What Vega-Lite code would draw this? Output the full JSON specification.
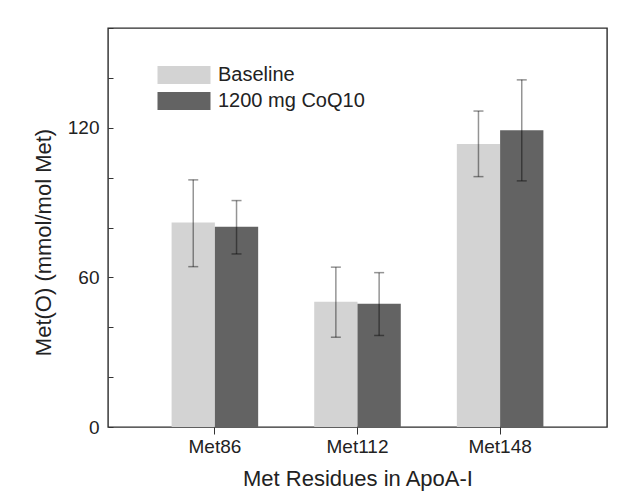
{
  "$schema": "https://vega.github.io/schema/vega-lite/v6.json",
  "autosize": {"type": "none"},
  "padding": {"left": 108, "top": 28, "right": 22, "bottom": 66},
  "width": 499,
  "height": 399,
  "background": "white",
  "config": {
    "font": "Liberation Sans",
    "view": {"stroke": "#2b2b2b", "strokeWidth": 1.4},
    "axis": {"labelColor": "#222", "titleColor": "#222", "titleFontWeight": "normal", "grid": false, "domain": false, "tickColor": "#333"}
  },
  "data": {
    "values": [
      {"residue": "Met86", "group": "Baseline", "mean": 82.0, "lo": 64.3, "hi": 99.1},
      {"residue": "Met86", "group": "1200 mg CoQ10", "mean": 80.3, "lo": 69.4, "hi": 90.8},
      {"residue": "Met112", "group": "Baseline", "mean": 50.2, "lo": 36.0, "hi": 64.1},
      {"residue": "Met112", "group": "1200 mg CoQ10", "mean": 49.4, "lo": 36.7, "hi": 61.9},
      {"residue": "Met148", "group": "Baseline", "mean": 113.5, "lo": 100.4, "hi": 126.7},
      {"residue": "Met148", "group": "1200 mg CoQ10", "mean": 119.0, "lo": 98.7, "hi": 139.2}
    ]
  },
  "encoding": {
    "x": {
      "field": "residue", "type": "nominal", "sort": ["Met86", "Met112", "Met148"],
      "scale": {"paddingInner": 0.393, "paddingOuter": 0.446},
      "axis": {"title": "Met Residues in ApoA-I", "labelAngle": 0, "labelFontSize": 19, "titleFontSize": 22, "tickSize": 7, "labelPadding": 3, "titlePadding": 12}
    },
    "xOffset": {"field": "group", "type": "nominal", "sort": ["Baseline", "1200 mg CoQ10"], "scale": {"paddingInner": 0, "paddingOuter": 0}}
  },
  "layer": [
    {
      "mark": {"type": "bar"},
      "encoding": {
        "y": {
          "field": "mean", "type": "quantitative",
          "scale": {"domain": [0, 160], "nice": false},
          "axis": {
            "title": "Met(O) (mmol/mol Met)",
            "values": [0, 10, 20, 30, 40, 50, 60, 70, 80, 90, 100, 110, 120, 130, 140, 150, 160],
            "labelExpr": "datum.value % 60 === 0 && datum.value < 160 ? datum.label : ''",
            "labelFontSize": 19,
            "titleFontSize": 22,
            "tickSize": -5,
            "labelPadding": 14,
            "titlePadding": 12,
            "titleY": 214
          }
        },
        "color": {
          "field": "group", "type": "nominal",
          "scale": {"domain": ["Baseline", "1200 mg CoQ10"], "range": ["#d3d3d3", "#636363"]},
          "legend": {
            "title": null, "orient": "none", "legendX": 66, "legendY": 37,
            "symbolType": "M-5.3,-1.8H5.3V1.8H-5.3Z", "symbolSize": 100, "symbolStrokeWidth": 0,
            "labelFontSize": 20, "labelColor": "#222", "labelOffset": 24, "rowPadding": 6, "padding": 0
          }
        }
      }
    },
    {
      "mark": {"type": "rule", "color": "black", "opacity": 0.42, "strokeWidth": 1.5},
      "encoding": {
        "y": {"field": "lo", "type": "quantitative"},
        "y2": {"field": "hi"}
      }
    },
    {
      "mark": {"type": "tick", "color": "black", "opacity": 0.42, "thickness": 1.5, "size": 10, "orient": "horizontal"},
      "encoding": {"y": {"field": "lo", "type": "quantitative"}}
    },
    {
      "mark": {"type": "tick", "color": "black", "opacity": 0.42, "thickness": 1.5, "size": 10, "orient": "horizontal"},
      "encoding": {"y": {"field": "hi", "type": "quantitative"}}
    }
  ]
}
